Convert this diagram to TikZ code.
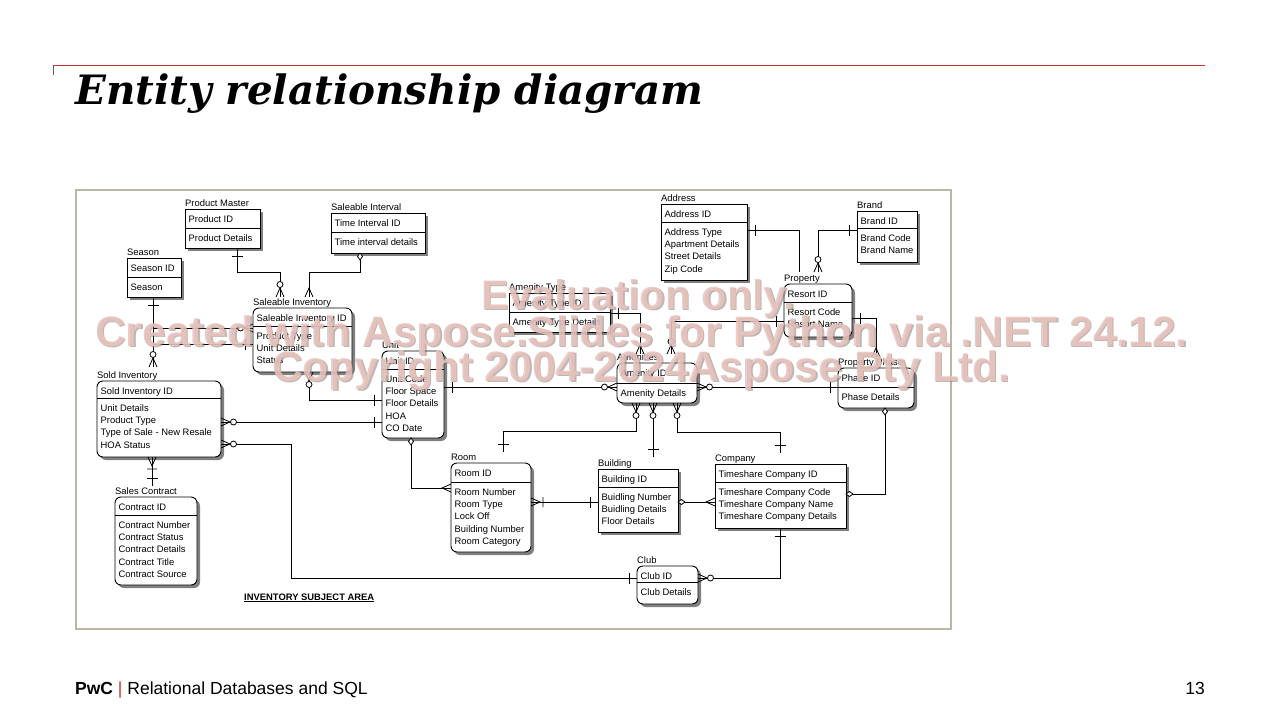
\documentclass[tikz,border=0pt]{standalone}
\usepackage{fontspec}
\setmainfont{Liberation Sans}
\newfontfamily\titlefont{DejaVu Serif}
\usetikzlibrary{calc,shadows}

\definecolor{pwcred}{RGB}{192,52,46}
\definecolor{framegray}{RGB}{188,182,166}
\definecolor{wmpink}{RGB}{234,196,190}
\definecolor{wmshadow}{RGB}{125,112,112}

\tikzset{
  ent/.style={draw=black, line width=0.9pt, fill=white, inner sep=0pt, outer sep=0pt,
    anchor=north west,
    drop shadow={shadow xshift=3pt, shadow yshift=-3pt, fill=black!50, opacity=1}},
  sq/.style={ent},
  rd/.style={ent, rounded corners=6pt},
  etxt/.style={font=\fontsize{9.4}{11}\selectfont, inner sep=0pt, anchor=base west},
  rel/.style={draw=black, line width=0.8pt},
  mkone/.pic={\draw[line width=0.8pt] (8,-5.5) -- (8,5.5);},
  mkmany/.pic={\draw[line width=0.8pt] (0,-4) -- (9,0) -- (0,4);},
  mkzm/.pic={\draw[line width=0.8pt] (0,-4) -- (9,0) -- (0,4);
             \draw[line width=0.8pt, fill=white] (12.5,0) circle[radius=3];},
  mkom/.pic={\draw[line width=0.8pt] (0,-4) -- (9,0) -- (0,4) (12,-5) -- (12,5);},
  mkdia/.pic={\draw[line width=0.8pt, fill=white] (0,0) -- (3.5,2.5) -- (7,0) -- (3.5,-2.5) -- cycle;},
}

% entity box: style, name, x, y, width, height, key-part height, key, attributes
\newcommand{\entity}[9]{%
  \node[#1, minimum width=#5pt, minimum height=#6pt] (#2) at (#3,#4) {};
  \draw[line width=0.9pt] ($(#2.north west)+(0,#7)$) -- ($(#2.north east)+(0,#7)$);
  \node[etxt] (#2-k) at ($(#2.north west)+(3.5,13)$) {#8};
  \foreach \attr [count=\n] in {#9} {%
    \node[etxt] (#2-a\n) at ($(#2.north west)+(3.5,{#7+13+(\n-1)*12.4})$) {\attr};
  }%
}
\newcommand{\elabel}[2]{\node[etxt] (#1-l) at ($(#1.north west)+(0,-3)$) {#2};}
\newcommand{\wmline}[5]{%
  \node[anchor=base west, inner sep=0pt, text=wmshadow, text opacity=0.5] (#1-s) at ({#2+1.5},{#3+1.5})
    {\resizebox{#4pt}{!}{\bfseries #5}};
  \node[anchor=base west, inner sep=0pt, text=wmpink, text opacity=0.85] (#1) at (#2,#3)
    {\resizebox{#4pt}{!}{\bfseries #5}};
}

\begin{document}
\begin{tikzpicture}[x=1pt,y=-1pt]
\fill[white] (0,0) rectangle (1280,720);
\useasboundingbox (0,0) rectangle (1280,720);

% slide header and footer
\draw[pwcred, line width=1pt] (53,75) -- (53,65) -- (1205,65);
\node[anchor=base west, inner sep=0pt] (title) at (75,104)
  {\resizebox{628pt}{!}{\titlefont\bfseries\itshape Entity relationship diagram}};
\node[anchor=base west, inner sep=0pt, font=\fontsize{17.5}{20}\selectfont] (foot) at (75,694)
  {\textbf{PwC} \textcolor{pwcred}{|} Relational Databases and SQL};
\node[anchor=base east, inner sep=0pt, font=\fontsize{17.5}{20}\selectfont] (pageno) at (1205,694) {13};

% diagram frame
\draw[framegray, line width=1.2pt] (76,190) rectangle (951,629);

% entities
\entity{sq}{pm}{185}{209}{75}{39}{19}{Product ID}{Product Details}
\entity{sq}{sint}{331}{213}{94}{40}{19}{Time Interval ID}{Time interval details}
\entity{sq}{sea}{127}{258}{54}{39}{19}{Season ID}{Season}
\entity{rd}{si}{253}{308}{99}{64}{18}{Saleable Inventory ID}{Product Type,Unit Details,Status}
\entity{rd}{sold}{97}{381}{124}{76}{17}{Sold Inventory ID}{Unit Details,Product Type,Type of Sale - New Resale,HOA Status}
\entity{rd}{sc}{115}{497}{82}{88}{18}{Contract ID}{Contract Number,Contract Status,Contract Details,Contract Title,Contract Source}
\entity{rd}{unit}{382}{351}{62}{87}{18}{Unit ID}{Unit Code,Floor Space,Floor Details,HOA,CO Date}
\entity{sq}{amt}{509}{293}{101}{39}{19}{Amenity Type ID}{Amenity Type Details}
\entity{rd}{amen}{617}{363}{80}{40}{20}{Amenity ID}{Amenity Details}
\entity{sq}{addr}{661}{204}{86}{76}{18}{Address ID}{Address Type,Apartment Details,Street Details,Zip Code}
\entity{sq}{brand}{857}{211}{60}{51}{17}{Brand ID}{Brand Code,Brand Name}
\entity{rd}{prop}{784}{284}{68}{53}{18}{Resort ID}{Resort Code,Resort Name}
\entity{rd}{ph}{838}{368}{76}{40}{19}{Phase ID}{Phase Details}
\entity{rd}{room}{451}{463}{80}{89}{19}{Room ID}{Room Number,Room Type,Lock Off,Building Number,Room Category}
\entity{sq}{bld}{598}{469}{80}{63}{18}{Building ID}{Buidling Number,Buidling Details,Floor Details}
\entity{sq}{comp}{715}{464}{131}{64}{18}{Timeshare Company ID}{Timeshare Company Code,Timeshare Company Name,Timeshare Company Details}
\entity{rd}{club}{637}{566}{61}{38}{16}{Club ID}{Club Details}

\elabel{pm}{Product Master}
\elabel{sint}{Saleable Interval}
\elabel{sea}{Season}
\elabel{si}{Saleable Inventory}
\elabel{sold}{Sold Inventory}
\elabel{sc}{Sales Contract}
\elabel{unit}{Unit}
\elabel{amt}{Amenity Type}
\elabel{amen}{Amenities}
\elabel{addr}{Address}
\elabel{brand}{Brand}
\elabel{prop}{Property}
\elabel{ph}{Property Phase}
\elabel{room}{Room}
\elabel{bld}{Building}
\elabel{comp}{Company}
\elabel{club}{Club}

\node[etxt, font=\fontsize{9.4}{11}\selectfont\bfseries] (area) at (244,600) {\underline{INVENTORY SUBJECT AREA}};

% connection points
\coordinate (pmS)    at ($(pm.south west)+(52,0)$);
\coordinate (siA)    at ($(si.north west)+(27,-11)$);
\coordinate (sintS)  at ($(sint.south west)+(29,0)$);
\coordinate (siB)    at ($(si.north west)+(56,-11)$);
\coordinate (seaS)   at ($(sea.south west)+(26,0)$);
\coordinate (soldT)  at ($(sold.north west)+(56,-14)$);
\coordinate (seaJ1)  at ($(sea.south west)+(26,31)$);
\coordinate (seaJ2)  at ($(sea.south west)+(26,47)$);
\coordinate (siL1)   at ($(si.north west)+(0,20)$);
\coordinate (siL2)   at ($(si.north west)+(0,36)$);
\coordinate (siS)    at ($(si.south west)+(56,0)$);
\coordinate (unitL1) at ($(unit.north west)+(0,49)$);
\coordinate (soldR1) at ($(sold.north east)+(0,41)$);
\coordinate (unitL2) at ($(unit.north west)+(0,71)$);
\coordinate (soldR2) at ($(sold.north east)+(0,63)$);
\coordinate (clubL)  at ($(club.north west)+(0,12)$);
\coordinate (soldS)  at ($(sold.south west)+(55,0)$);
\coordinate (scT)    at ($(sc.north west)+(37,-11)$);
\coordinate (unitS)  at ($(unit.south west)+(29,0)$);
\coordinate (roomL)  at ($(room.north west)+(0,25)$);
\coordinate (unitR)  at ($(unit.north east)+(0,36)$);
\coordinate (amenL)  at ($(amen.north west)+(0,24)$);
\coordinate (amtR)   at ($(amt.north east)+(0,20)$);
\coordinate (amenT1) at ($(amen.north west)+(23,-9)$);
\coordinate (propL)  at ($(prop.north west)+(0,37)$);
\coordinate (amenT2) at ($(amen.north west)+(54,-9)$);
\coordinate (amenR)  at ($(amen.north east)+(0,24)$);
\coordinate (phL)    at ($(ph.north west)+(0,19)$);
\coordinate (addrR)  at ($(addr.north east)+(0,26)$);
\coordinate (propT1) at ($(prop.north west)+(15,-12)$);
\coordinate (brandL) at ($(brand.north west)+(0,19)$);
\coordinate (propT2) at ($(prop.north west)+(34,-12)$);
\coordinate (propR)  at ($(prop.north east)+(0,34)$);
\coordinate (phT)    at ($(ph.north west)+(38,-11)$);
\coordinate (phS)    at ($(ph.south west)+(47,0)$);
\coordinate (compR)  at ($(comp.north east)+(0,30)$);
\coordinate (bldR)   at ($(bld.north east)+(0,33)$);
\coordinate (compL)  at ($(comp.north west)+(0,38)$);
\coordinate (roomR)  at ($(room.north east)+(0,39)$);
\coordinate (bldL)   at ($(bld.north west)+(0,33)$);
\coordinate (compS)  at ($(comp.south west)+(65,0)$);
\coordinate (clubR)  at ($(club.north east)+(0,12)$);
\coordinate (amenS1) at ($(amen.south west)+(19,0)$);
\coordinate (roomT)  at ($(room.north west)+(52,-11)$);
\coordinate (amenS2) at ($(amen.south west)+(36,0)$);
\coordinate (bldT)   at ($(bld.north west)+(55,-12)$);
\coordinate (amenS3) at ($(amen.south west)+(60,0)$);
\coordinate (compT)  at ($(comp.north west)+(65,-11)$);

% relationships
\draw[rel] (pmS) |- ($(si.north west)+(27,-36)$) -- (siA);
\draw[rel] (sintS) |- ($(si.north west)+(56,-36)$) -- (siB);
\draw[rel] (seaS) -- (soldT);
\draw[rel] (seaJ1) -- (siL1);
\draw[rel] (seaJ2) -- (siL2);
\draw[rel] (siS) |- (unitL1);
\draw[rel] (soldR1) -- (unitL2);
\draw[rel] (soldR2) -- ++(70,0) |- (clubL);
\draw[rel] (soldS) -- (scT);
\draw[rel] (unitS) |- (roomL);
\draw[rel] (unitR) -- (amenL);
\draw[rel] (amtR) -| (amenT1);
\draw[rel] (propL) -| (amenT2);
\draw[rel] (amenR) -- (phL);
\draw[rel] (addrR) -| (propT1);
\draw[rel] (brandL) -| (propT2);
\draw[rel] (propR) -| (phT);
\draw[rel] (phS) |- (compR);
\draw[rel] (bldR) -- (compL);
\draw[rel] (roomR) -- (bldL);
\draw[rel] (compS) |- (clubR);
\draw[rel] (amenS1) |- ($(room.north west)+(52,-32)$) -- (roomT);
\draw[rel] (amenS2) -- (bldT);
\draw[rel] (amenS3) |- ($(comp.north west)+(65,-32)$) -- (compT);

% relationship ends
\pic[rotate=-90] at (pmS) {mkone};
\pic[rotate=90] at (siA) {mkzm};
\pic[rotate=-90] at (sintS) {mkdia};
\pic[rotate=90] at (siB) {mkmany};
\pic[rotate=-90] at (seaS) {mkone};
\pic[rotate=90] at (soldT) {mkzm};
\pic[rotate=180] at (siL1) {mkzm};
\pic[rotate=180] at (siL2) {mkone};
\pic[rotate=-90] at (siS) {mkzm};
\pic[rotate=180] at (unitL1) {mkone};
\pic at (soldR1) {mkzm};
\pic[rotate=180] at (unitL2) {mkone};
\pic at (soldR2) {mkzm};
\pic[rotate=180] at (clubL) {mkone};
\pic[rotate=-90] at (soldS) {mkom};
\pic[rotate=90] at (scT) {mkone};
\pic[rotate=-90] at (unitS) {mkdia};
\pic[rotate=180] at (roomL) {mkmany};
\pic at (unitR) {mkone};
\pic[rotate=180] at (amenL) {mkzm};
\pic at (amtR) {mkone};
\pic[rotate=90] at (amenT1) {mkmany};
\pic[rotate=180] at (propL) {mkone};
\pic[rotate=90] at (amenT2) {mkzm};
\pic at (amenR) {mkzm};
\pic[rotate=180] at (phL) {mkone};
\pic at (addrR) {mkone};
\pic[rotate=180] at (brandL) {mkone};
\pic[rotate=90] at (propT2) {mkzm};
\pic at (propR) {mkone};
\pic[rotate=90] at (phT) {mkmany};
\pic[rotate=-90] at (phS) {mkdia};
\pic at (compR) {mkdia};
\pic at (bldR) {mkdia};
\pic[rotate=180] at (compL) {mkmany};
\pic at (roomR) {mkom};
\pic[rotate=180] at (bldL) {mkone};
\pic[rotate=-90] at (compS) {mkone};
\pic at (clubR) {mkzm};
\pic[rotate=-90] at (amenS1) {mkzm};
\pic[rotate=90] at (roomT) {mkone};
\pic[rotate=-90] at (amenS2) {mkzm};
\pic[rotate=90] at (bldT) {mkone};
\pic[rotate=-90] at (amenS3) {mkzm};
\pic[rotate=90] at (compT) {mkone};

% evaluation watermark
\wmline{wm1}{481}{309}{314}{Evaluation only.}
\wmline{wm2}{95}{346}{1092}{Created with Aspose.Slides for Python via .NET 24.12.}
\wmline{wm3}{272}{381}{738}{Copyright 2004-2024Aspose Pty Ltd.}
\end{tikzpicture}
\end{document}
